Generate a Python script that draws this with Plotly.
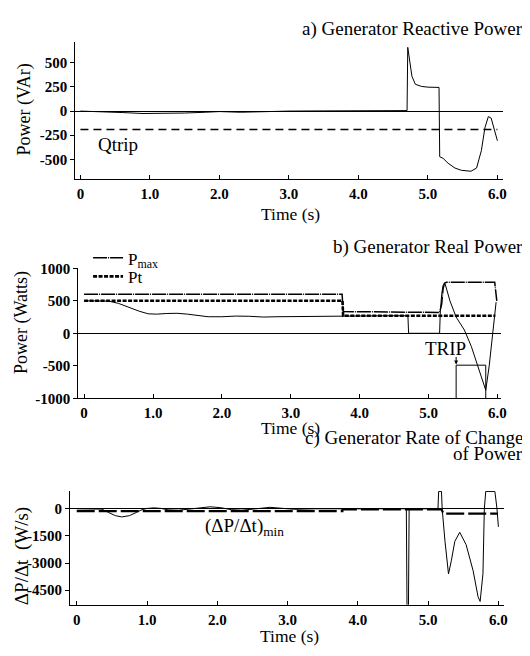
import plotly.graph_objects as go

# ---------------- Panel a: Generator Reactive Power ----------------
t_q = [0.0, 0.3, 0.6, 0.9, 1.2, 1.5, 1.8, 2.0, 2.3, 2.6, 3.0, 3.5, 4.0, 4.5, 4.70,
       4.71, 4.75, 4.77, 4.82, 4.91, 5.0, 5.16, 5.17, 5.22, 5.29, 5.39, 5.48, 5.62,
       5.70, 5.77, 5.82, 5.87, 5.91, 5.96, 6.0]
q_var = [0, -5, -15, -25, -25, -20, -12, -5, -12, -5, 0, 2, 3, 5, 5,
         660, 460, 360, 277, 255, 248, 245, -473, -490, -540, -590, -613, -623,
         -590, -407, -173, -57, -73, -207, -307]
t_qtrip = [0.0, 6.0]
q_trip = [-190, -190]

# ---------------- Panel b: Generator Real Power ----------------
t_p = [0.0, 0.2, 0.36, 0.5, 0.6, 0.7, 0.8, 0.93, 1.05, 1.2, 1.35, 1.5, 1.65, 1.8, 2.0,
       2.2, 2.4, 2.6, 2.8, 3.0, 3.3, 3.6, 3.75, 4.0, 4.4, 4.70, 4.71, 5.16, 5.17,
       5.19, 5.21, 5.24, 5.31, 5.40, 5.52, 5.62, 5.71, 5.79, 5.83, 5.88, 5.93, 5.98]
p_real = [500, 500, 495, 460, 420, 375, 340, 300, 295, 305, 308, 295, 275, 255, 255,
          265, 262, 250, 255, 258, 262, 266, 270, 270, 270, 270, 0, 0, 330,
          600, 740, 760, 500, 250, 50, -200, -500, -750, -875, -500, 0, 480]
t_pmax = [0.0, 3.745, 3.76, 4.5, 5.16, 5.19, 5.21, 5.23, 5.26, 5.96, 5.99]
p_max = [600, 600, 335, 330, 320, 450, 680, 770, 785, 785, 500]
t_pt = [0.0, 3.75, 3.76, 5.97]
p_t = [500, 500, 270, 270]
t_trip = [5.40, 5.40, 5.83, 5.83]
p_trip = [-1000, -490, -490, -1000]

# ---------------- Panel c: Generator Rate of Change of Power ----------------
t_d = [0.0, 0.3, 0.36, 0.45, 0.55, 0.64, 0.75, 0.85, 0.93, 1.0, 1.1, 1.2, 1.3, 1.45,
       1.6, 1.75, 1.9, 2.05, 2.2, 2.35, 2.5, 2.65, 2.75, 2.9, 3.1, 3.4, 3.8, 4.2,
       4.69, 4.70, 4.72, 4.73, 5.14, 5.15, 5.19, 5.20, 5.24, 5.29, 5.33, 5.38, 5.45,
       5.54, 5.64, 5.71, 5.74, 5.78, 5.80, 5.82, 5.95, 5.98, 6.0]
dpdt = [0, 0, -20, -200, -380, -450, -380, -200, -50, 20, 50, 20, -60, -80,
        -30, 50, 110, 60, -50, -80, -40, 40, 80, 30, -30, 0, 20, 0,
        0, -5600, -5600, 0, 0, 960, 960, 0, -1800, -3600, -2880, -1800, -1300,
        -1980, -3420, -4860, -5125, -3600, 0, 960, 960, 0, -1000]
t_dmin = [0.0, 3.78, 3.78, 5.19, 5.22, 5.99]
dpdt_min = [-130, -130, -30, -30, -270, -270]

# tick labels
x_ticks = [0, 1, 2, 3, 4, 5, 6]
x_ticklabels = ["0", "1.0", "2.0", "3.0", "4.0", "5.0", "6.0"]
ya_ticks = [500, 250, 0, -250, -500]
ya_labels = ["500", "250", "0", "-250", "-500"]
yb_ticks = [1000, 500, 0, -500, -1000]
yb_labels = ["1000", "500", "0", "-500", "-1000"]
yc_ticks = [0, -1500, -3000, -4500]
yc_labels = ["0", "-1500", "-3000", "-4500"]

SERIF = "Liberation Serif"
OFF = 8                      # default page margin of the html body
W, H = 530 - OFF, 656 - OFF


def px(x):
    return (x - OFF) / W


def py(y):
    return 1 - (y - OFF) / H


fig = go.Figure()
thin = dict(color="black", width=1)

fig.add_trace(go.Scatter(x=t_q, y=q_var, mode="lines", line=thin, xaxis="x", yaxis="y",
                         showlegend=False))
fig.add_trace(go.Scatter(x=t_qtrip, y=q_trip, mode="lines", xaxis="x", yaxis="y",
                         line=dict(color="black", width=1.5, dash="8px,5px"), showlegend=False))

fig.add_trace(go.Scatter(x=t_p, y=p_real, mode="lines", line=thin, xaxis="x2", yaxis="y2",
                         showlegend=False))
fig.add_trace(go.Scatter(x=t_pmax, y=p_max, mode="lines", xaxis="x2", yaxis="y2",
                         name="P<sub>max</sub>", legend="legend",
                         line=dict(color="black", width=1.5, dash="14px,1px,1px,1px")))
fig.add_trace(go.Scatter(x=t_pt, y=p_t, mode="lines", xaxis="x2", yaxis="y2",
                         name="Pt", legend="legend2",
                         line=dict(color="black", width=2.6, dash="4px,1.5px")))
fig.add_trace(go.Scatter(x=t_trip, y=p_trip, mode="lines", line=thin, xaxis="x2", yaxis="y2",
                         showlegend=False))

fig.add_trace(go.Scatter(x=t_d, y=dpdt, mode="lines", line=thin, xaxis="x3", yaxis="y3",
                         showlegend=False))
fig.add_trace(go.Scatter(x=t_dmin, y=dpdt_min, mode="lines", xaxis="x3", yaxis="y3",
                         line=dict(color="black", width=2.2, dash="18px,4px"), showlegend=False))

tickfont = dict(family=SERIF, size=15, color="black", weight="bold")


def xax(x0, x1, anchor, rng):
    return dict(domain=[px(x0), px(x1)], anchor=anchor, range=rng, showline=True,
                linecolor="black", linewidth=1, ticks="inside", ticklen=4, tickcolor="black",
                tickvals=x_ticks, ticktext=x_ticklabels, tickfont=tickfont,
                zeroline=False, showgrid=False, ticklabelstandoff=1)


def yax(ytop, ybot, anchor, rng, tv, tt):
    return dict(domain=[py(ybot), py(ytop)], anchor=anchor, range=rng, showline=True,
                linecolor="black", linewidth=1, ticks="outside", ticklen=4, tickcolor="black",
                tickvals=tv, ticktext=tt, tickfont=tickfont,
                zeroline=True, zerolinecolor="black", zerolinewidth=1, showgrid=False)


annots = []


def text(xp, yp, s, size=18, xanchor="center", angle=0):
    annots.append(dict(x=px(xp), y=py(yp), xref="paper", yref="paper", text=s,
                       showarrow=False, xanchor=xanchor, yanchor="middle", textangle=angle,
                       borderpad=0, font=dict(family=SERIF, size=size, color="black")))


# titles
text(530, 21, "a) Generator Reactive Power", size=19, xanchor="right")
text(530, 245, "b) Generator Real Power", size=19, xanchor="right")
text(530, 441, "c) Generator Rate of Change", size=19, xanchor="right")
text(530, 457, "of Power", size=19, xanchor="right")
# axis titles
text(294, 211, "Time (s)", size=17.5)
text(294, 430, "Time (s)", size=17.5)
text(293, 644, "Time (s)", size=17.5)
text(25, 104, "Power (VAr)", angle=-90)
text(21, 322, "Power (Watts)", angle=-90)
text(22, 562, "ΔP/Δt  (W/s)", angle=-90, size=19)

# in-plot labels
annots.append(dict(x=0.54, y=-350, xref="x", yref="y", text="Qtrip", showarrow=False,
                   font=dict(family=SERIF, size=19, color="black")))
annots.append(dict(x=5.25, y=-230, xref="x2", yref="y2", text="TRIP", showarrow=False,
                   font=dict(family=SERIF, size=19, color="black")))
annots.append(dict(x=5.40, y=-480, xref="x2", yref="y2", ax=5.40, ay=-340, axref="x2",
                   ayref="y2", text="", showarrow=True, arrowhead=2, arrowsize=0.8,
                   arrowwidth=1, arrowcolor="black"))
annots.append(dict(x=2.39, y=-990, xref="x3", yref="y3", text="(ΔP/Δt)<sub>min</sub>",
                   showarrow=False, font=dict(family=SERIF, size=19, color="black")))

legfont = dict(family=SERIF, size=17, color="black")

fig.update_layout(
    width=W, height=H, margin=dict(l=0, r=0, t=0, b=0),
    paper_bgcolor="white", plot_bgcolor="white",
    xaxis=xax(76, 509, "y", [-0.075, 6.084]),
    yaxis=yax(35, 175, "x", [-702, 712], ya_ticks, ya_labels),
    xaxis2=xax(79, 507, "y2", [-0.086, 6.055]),
    yaxis2=yax(266.7, 400, "x2", [-1000, 1000], yb_ticks, yb_labels),
    xaxis3=xax(70.7, 510, "y3", [-0.096, 6.083]),
    yaxis3=yax(495, 611.7, "x3", [-5310, 985], yc_ticks, yc_labels),
    legend=dict(x=px(89), y=py(238), xanchor="left", yanchor="top", bgcolor="rgba(0,0,0,0)",
                font=legfont, borderwidth=0, tracegroupgap=0, itemwidth=30),
    legend2=dict(x=px(89), y=py(257), xanchor="left", yanchor="top", bgcolor="rgba(0,0,0,0)",
                 font=legfont, borderwidth=0, tracegroupgap=0, itemwidth=30),
    annotations=annots,
    showlegend=True,
)

fig.write_html("out.html")
